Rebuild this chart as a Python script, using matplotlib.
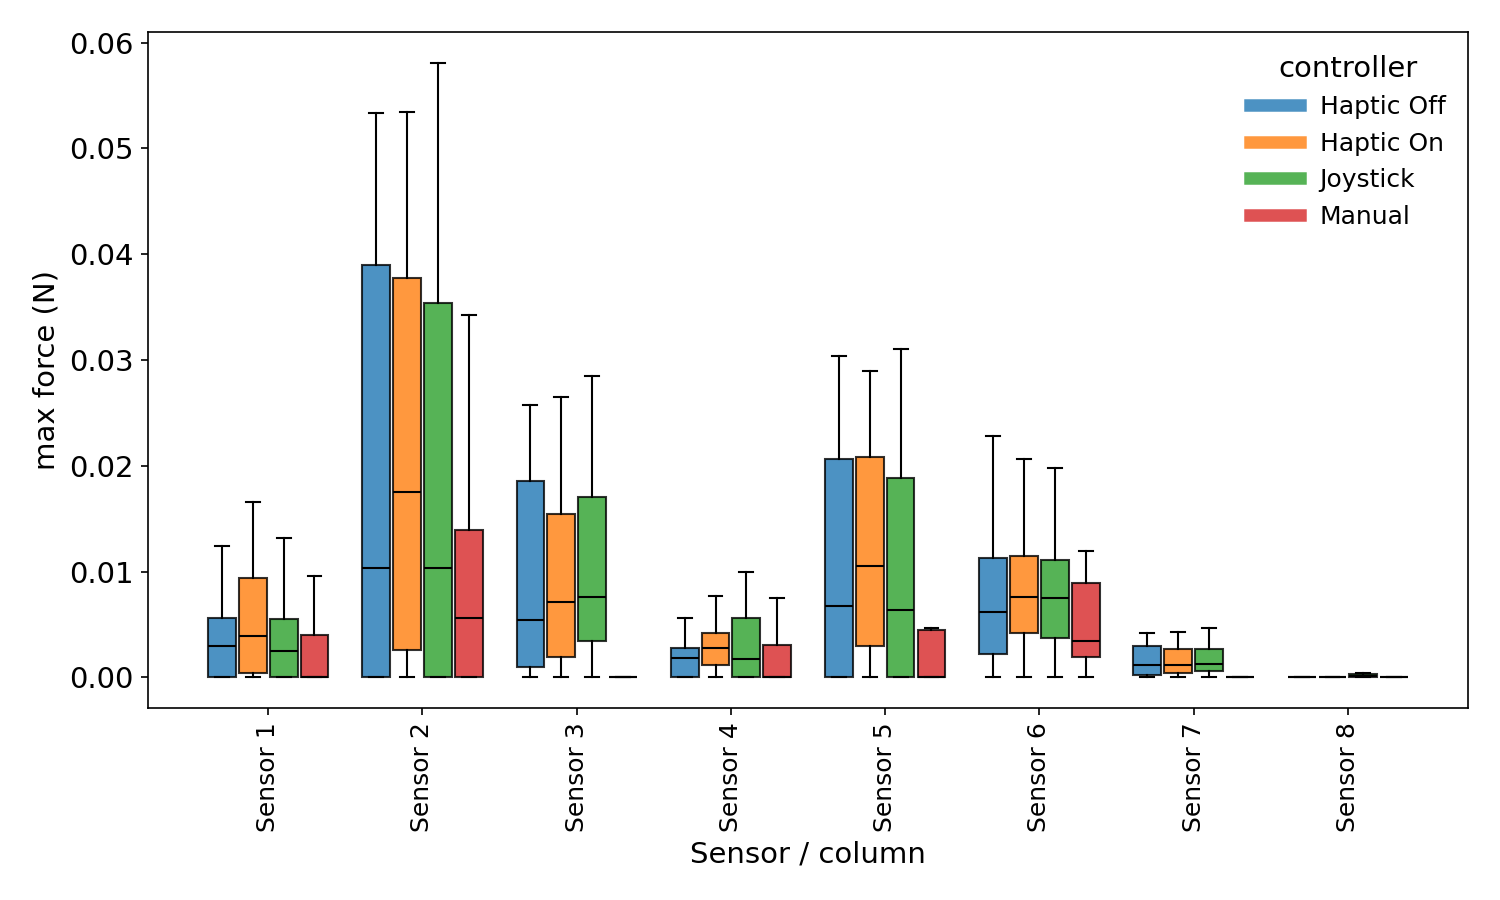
import numpy as np
import matplotlib.pyplot as plt
from matplotlib.lines import Line2D

sensors = ["Sensor 1", "Sensor 2", "Sensor 3", "Sensor 4",
           "Sensor 5", "Sensor 6", "Sensor 7", "Sensor 8"]
controllers = ["Haptic Off", "Haptic On", "Joystick", "Manual"]
colors = ["tab:blue", "tab:orange", "tab:green", "tab:red"]

# box stats, one row per controller, one column per sensor
whislo = [
    [0, 0, 0, 0, 0, 0, 0, 0],
    [0, 0, 0, 0, 0, 0, 0, 0],
    [0, 0, 0, 0, 0, 0, 0, 0],
    [0, 0, 0, 0, 0, 0, 0, 0],
]
q1 = [
    [0.0, 0.0, 0.00095, 0.0, 0.0, 0.00218, 0.0002, 0.0],
    [0.0004, 0.00255, 0.0019, 0.00114, 0.0030, 0.00416, 0.0004, 0.0],
    [0.0, 0.0, 0.0034, 0.0, 0.0, 0.00369, 0.0006, 0.0],
    [0.0, 0.0, 0.0, 0.0, 0.0, 0.0019, 0.0, 0.0],
]
med = [
    [0.0030, 0.0103, 0.0054, 0.0018, 0.0067, 0.00615, 0.0012, 0.0],
    [0.00388, 0.0175, 0.0071, 0.00274, 0.0105, 0.00757, 0.0012, 0.0],
    [0.00246, 0.0103, 0.00757, 0.0017, 0.00634, 0.00748, 0.0013, 0.0001],
    [0.0, 0.00558, 0.0, 0.0, 0.0, 0.0034, 0.0, 0.0],
]
q3 = [
    [0.00558, 0.0390, 0.01855, 0.00274, 0.0206, 0.01126, 0.00293, 0.0],
    [0.00937, 0.03776, 0.01543, 0.00416, 0.0208, 0.01145, 0.00271, 0.0],
    [0.0055, 0.0354, 0.01703, 0.0056, 0.01883, 0.01107, 0.00265, 0.0003],
    [0.0040, 0.01391, 0.0, 0.0031, 0.00445, 0.0089, 0.0, 0.0],
]
whishi = [
    [0.0124, 0.05337, 0.02574, 0.0056, 0.03038, 0.0228, 0.0042, 0.0],
    [0.01656, 0.0534, 0.0265, 0.00767, 0.02896, 0.0206, 0.00429, 0.0],
    [0.01315, 0.0581, 0.02849, 0.0100, 0.0310, 0.0198, 0.00467, 0.0004],
    [0.00956, 0.03426, 0.0, 0.0075, 0.00467, 0.01192, 0.0, 0.0],
]

fig, ax = plt.subplots(figsize=(10, 6), dpi=150)

x = np.arange(len(sensors))
offsets = [-0.3, -0.1, 0.1, 0.3]
width = 0.18

for i, name in enumerate(controllers):
    stats = []
    for j in range(len(sensors)):
        stats.append(dict(med=med[i][j], q1=q1[i][j], q3=q3[i][j],
                          whislo=whislo[i][j], whishi=whishi[i][j],
                          fliers=[], label=sensors[j]))
    ax.bxp(stats, positions=x + offsets[i], widths=width,
           patch_artist=True, showfliers=False, manage_ticks=False,
           boxprops=dict(facecolor=colors[i], edgecolor="black",
                         alpha=0.8, linewidth=1),
           medianprops=dict(color="black", linewidth=1),
           whiskerprops=dict(color="black", linewidth=1),
           capprops=dict(color="black", linewidth=1))

ax.set_xticks(x)
ax.set_xticklabels(sensors, rotation=90, fontsize=12)
ax.tick_params(axis="y", labelsize=14)
ax.set_xlabel("Sensor / column", fontsize=14)
ax.set_ylabel("max force (N)", fontsize=14)

handles = [Line2D([0], [0], color=c, lw=6, alpha=0.8) for c in colors]
ax.legend(handles, controllers, title="controller", fontsize=12,
          title_fontsize=14, frameon=False, loc="upper right")

plt.subplots_adjust(left=0.0987, right=0.9787, top=0.9644, bottom=0.2133)
plt.savefig("out.png")
